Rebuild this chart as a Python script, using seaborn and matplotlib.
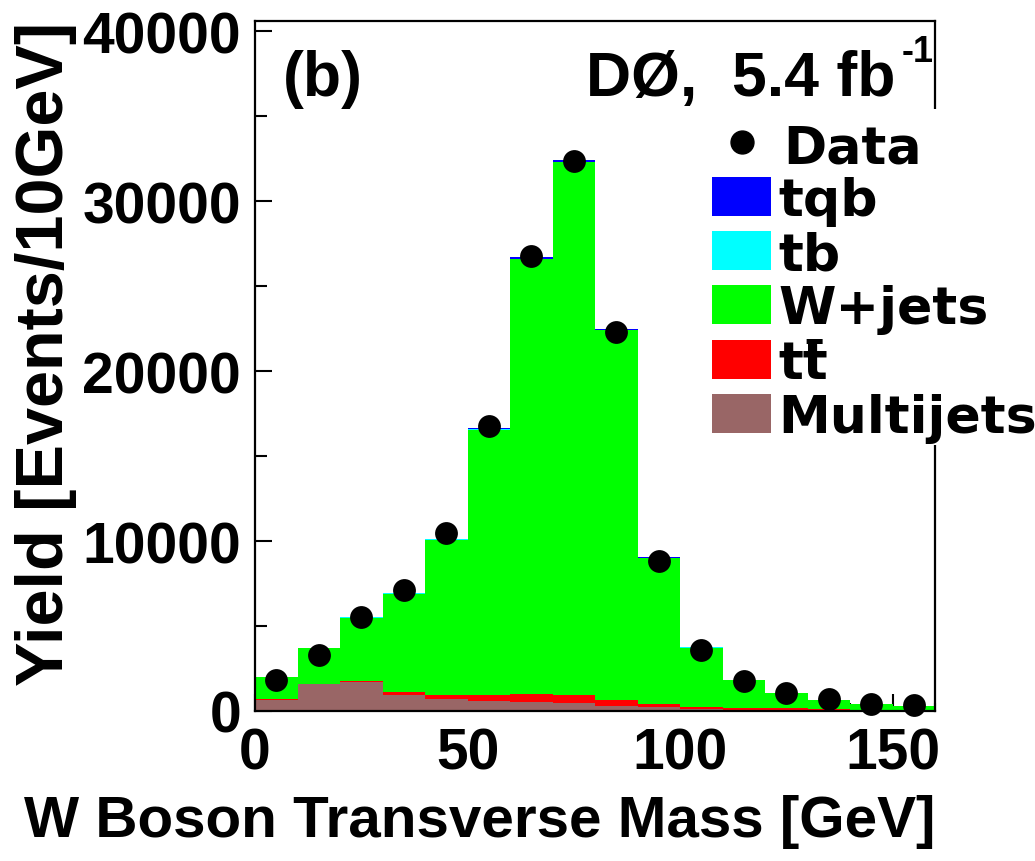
import numpy as np
import pandas as pd
import matplotlib
matplotlib.use("Agg")
import matplotlib.pyplot as plt
import seaborn as sns
from matplotlib.patches import Rectangle
from matplotlib.lines import Line2D
from matplotlib.ticker import MultipleLocator

# ---------------- data ----------------
bin_edges = [0, 10, 20, 30, 40, 50, 60, 70, 80, 90, 100, 110, 120, 130, 140, 150, 160]
bin_centers = [5, 15, 25, 35, 45, 55, 65, 75, 85, 95, 105, 115, 125, 135, 145, 155]

multijets = [650, 1570, 1690, 940, 700, 600, 510, 450, 280, 230, 120, 80, 60, 40, 30, 20]
ttbar = [30, 20, 60, 180, 240, 360, 470, 470, 370, 180, 130, 120, 90, 60, 40, 30]
wjets = [1310, 2090, 3745, 5780, 9140, 15600, 25600, 31360, 21740, 8610, 3484, 1607, 903, 556, 357, 239]
tb = [3, 6, 10, 14, 18, 25, 30, 35, 25, 12, 6, 3, 2, 1, 1, 0]
tqb = [8, 15, 25, 35, 50, 70, 100, 120, 90, 40, 20, 10, 5, 3, 2, 1]
data = [1820, 3300, 5530, 7130, 10450, 16780, 26780, 32360, 22300, 8800, 3590, 1770, 1080, 720, 420, 350]

process_names = ["tqb", "tb", "W+jets", "ttbar", "Multijets"]
legend_labels = ["tqb", "tb", "W+jets", "tt\u0304", "Multijets"]
process_colors = ["#0000ff", "#00ffff", "#00ff00", "#ff0000", "#996666"]

x_ticks = [0, 50, 100, 150]
x_tick_labels = ["0", "50", "100", "150"]
y_ticks = [0, 10000, 20000, 30000, 40000]
y_tick_labels = ["0", "10000", "20000", "30000", "40000"]

x_label = "W Boson Transverse Mass [GeV]"
y_label = "Yield [Events/10GeV]"

# ---------------- style ----------------
sns.set_theme(style="white")
plt.rcParams["font.family"] = ["Liberation Sans", "DejaVu Sans"]

W, H = 1035, 862
fig = plt.figure(figsize=(W / 100, H / 100), dpi=100)
fig.patch.set_facecolor("white")
ax = fig.add_axes([255 / W, 1 - 712 / H, 680 / W, 690 / H])
ax.set_facecolor("white")

series = {"tqb": tqb, "tb": tb, "W+jets": wjets, "ttbar": ttbar, "Multijets": multijets}
df = pd.concat(
    [pd.DataFrame({"mt": bin_centers, "yield": series[n], "process": n}) for n in process_names],
    ignore_index=True,
)

sns.histplot(
    data=df, x="mt", weights="yield", hue="process", hue_order=process_names,
    multiple="stack", bins=bin_edges, palette=dict(zip(process_names, process_colors)),
    element="step", fill=True, alpha=1, linewidth=0, legend=False, ax=ax,
)

sns.scatterplot(x=bin_centers, y=data, color="black", s=270, linewidth=0,
                marker="o", legend=False, ax=ax, zorder=5, clip_on=False)

ax.set_xlim(0, 160)
ax.set_ylim(0, 40600)

for s in ax.spines.values():
    s.set_visible(True)
    s.set_color("black")
    s.set_linewidth(1.6)

ax.set_xticks(x_ticks)
ax.set_xticklabels(x_tick_labels, fontsize=41, fontweight="bold")
ax.set_yticks(y_ticks)
ax.set_yticklabels(y_tick_labels, fontsize=41, fontweight="bold")
ax.xaxis.set_minor_locator(MultipleLocator(10))
ax.yaxis.set_minor_locator(MultipleLocator(5000))
ax.tick_params(axis="both", which="both", direction="in", colors="black", width=1.5,
               top=False, right=False, bottom=True, left=True)
ax.tick_params(axis="x", which="major", length=12, pad=11)
ax.tick_params(axis="x", which="minor", length=6)
ax.tick_params(axis="y", which="major", length=12, pad=10)
ax.tick_params(axis="y", which="minor", length=8.5)

ax.set_xlabel(x_label, loc="right", fontsize=42, fontweight="bold", labelpad=10, color="black")
ax.set_ylabel(y_label, loc="top", fontsize=48, fontweight="bold", labelpad=4, color="black")


def fx(x):
    return x / W


def fy(y):
    return 1 - y / H


# top annotations
fig.text(fx(283), fy(96), "(b)", fontsize=45, fontweight="bold",
         va="baseline", ha="left", color="black")
fig.text(fx(895), fy(96), "DØ,  5.4 fb", fontsize=45, fontweight="bold",
         va="baseline", ha="right", color="black")
fig.text(fx(902), fy(62), "-1", fontsize=26, fontweight="bold",
         va="baseline", ha="left", color="black")

# legend (ROOT style, drawn on a white pad)
fig.patches.append(Rectangle((fx(700), fy(446)), fx(1035) - fx(700), fy(110) - fy(446),
                             transform=fig.transFigure, facecolor="white", edgecolor="none", zorder=2))
fig.add_artist(Line2D([fx(742)], [fy(143)], marker="o", markersize=16.5, color="black",
                      linestyle="none", transform=fig.transFigure, zorder=3))
fig.text(fx(783), fy(163), "Data", fontsize=37.5, fontfamily="DejaVu Sans", fontweight="bold",
         va="baseline", ha="left", color="black", zorder=4)
for i, (lab, col) in enumerate(zip(legend_labels, process_colors)):
    top = 178 + i * 54.2
    bottom = top + 39
    fig.patches.append(Rectangle((fx(712), fy(bottom)), fx(771) - fx(712), fy(top) - fy(bottom),
                                 transform=fig.transFigure, facecolor=col, edgecolor="none", zorder=3))
    fig.text(fx(778), fy(bottom - 1), lab, fontsize=37.5, fontfamily="DejaVu Sans",
             fontweight="bold", va="baseline", ha="left", color="black", zorder=4)

fig.savefig("out.png", dpi=100, facecolor="white")
